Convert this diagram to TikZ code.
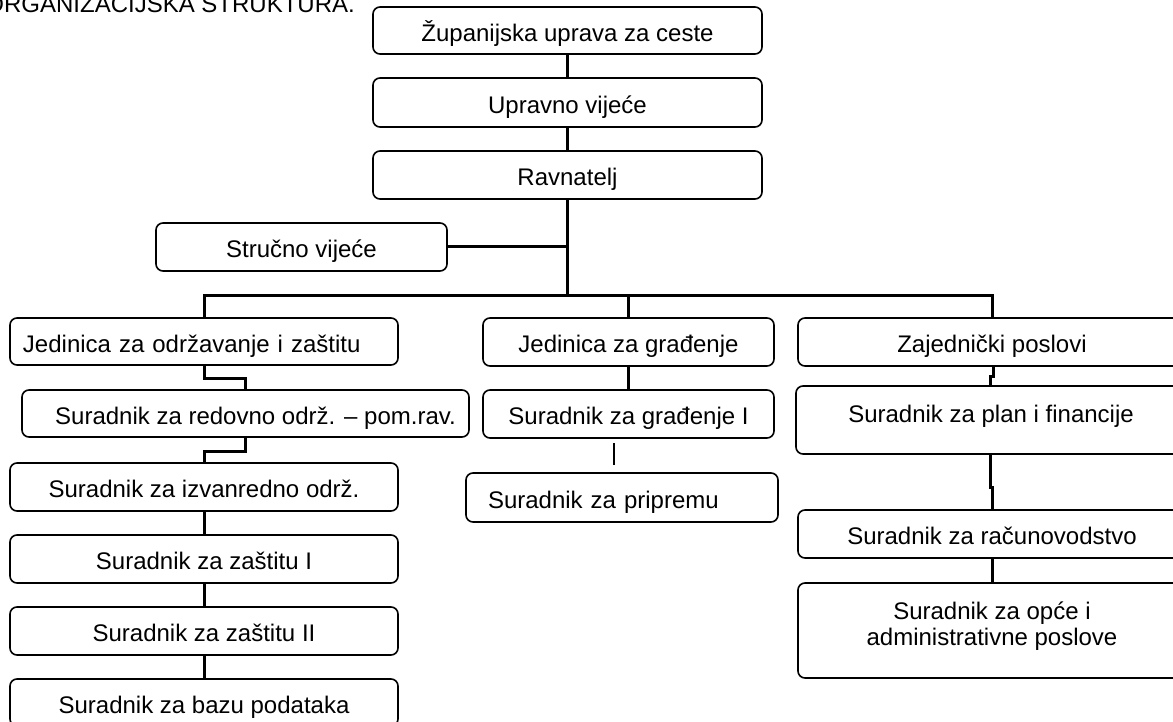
\documentclass[tikz,border=0pt]{standalone}
\usepackage{fontspec}
\setmainfont{Liberation Sans}
\usetikzlibrary{calc}
\tikzset{
  orgbox/.style={draw, line width=1.6pt, rounded corners=7pt, inner sep=0pt,
    text height=21.2pt, text depth=0pt,
    font=\fontsize{24}{25.5}\selectfont, align=center},
  trunk/.style={line width=3.8pt},
  link/.style={line width=3pt},
  thinlink/.style={line width=1.5pt},
}
\begin{document}
\begin{tikzpicture}[x=1pt,y=-1pt]
\useasboundingbox (0,0) rectangle (1173,722);
\node[anchor=base east, font=\fontsize{24}{26}\selectfont, inner sep=0pt] (title) at (355,13) {ORGANIZACIJSKA STRUKTURA.};

\node[orgbox, minimum width=389pt, minimum height=47pt] (zup) at (567.5,30.5) {Županijska uprava za ceste};
\node[orgbox, minimum width=389pt, minimum height=49pt] (upr) at (567.5,102.5) {Upravno vijeće};
\node[orgbox, minimum width=389pt, minimum height=48pt] (rav) at (567.5,175) {Ravnatelj};
\node[orgbox, minimum width=291pt, minimum height=48pt] (stru) at (301.5,247) {Stručno vijeće};

\node[orgbox, minimum width=388pt, minimum height=47pt, text width=362pt, align=left] (jod) at (204,341.5) {Jedinica za održavanje i zaštitu};
\node[orgbox, minimum width=291pt, minimum height=48pt] (jgr) at (628.5,342) {Jedinica za građenje};
\node[orgbox, minimum width=388pt, minimum height=48pt] (zaj) at (992,342) {Zajednički poslovi};

\node[orgbox, minimum width=447pt, minimum height=47pt] (red) at (245.5,413.5) {\hspace*{20pt}Suradnik za redovno održ. – pom.rav.};
\node[orgbox, minimum width=291pt, minimum height=48pt] (sgr) at (628.5,414) {Suradnik za građenje I};
\node[orgbox, minimum width=390pt, minimum height=68pt, text depth=17pt] (plan) at (991,420) {Suradnik za plan i financije};

\node[orgbox, minimum width=388pt, minimum height=48pt] (izv) at (204,487) {Suradnik za izvanredno održ.};
\node[orgbox, minimum width=312pt, minimum height=49pt, text width=268pt, align=left] (pri) at (622,497.5) {Suradnik za pripremu};
\node[orgbox, minimum width=388pt, minimum height=48pt] (rac) at (992,534) {Suradnik za računovodstvo};

\node[orgbox, minimum width=388pt, minimum height=48pt] (z1) at (204,559) {Suradnik za zaštitu I};
\node[orgbox, minimum width=388pt, minimum height=48pt] (z2) at (204,631) {Suradnik za zaštitu II};
\node[orgbox, minimum width=388pt, minimum height=95pt, text height=46pt, text depth=17pt] (opce) at (992,630.5) {Suradnik za opće i\\administrativne poslove};
\node[orgbox, minimum width=388pt, minimum height=47pt] (baza) at (204,702.5) {Suradnik za bazu podataka};

% trunk
\draw[link] (zup.south) -- (upr.north);
\draw[link] (upr.south) -- (rav.north);
\coordinate (bus) at (567.5,295);
\draw[trunk] (rav.south) -- (bus);
\draw[link] (stru.east) -- (stru.east -| rav.south);
\draw[link] (jod.north) |- (bus) -| (zaj.north);
\draw[link] (jgr.north) -- (jgr.north |- bus);

% left column
\draw[link] (jod.south) -- ++(0,13) -| (red.north);
\draw[link] (red.south) -- ++(0,14) -| (izv.north);
\draw[link] (izv.south) -- (z1.north);
\draw[link] (z1.south) -- (z2.north);
\draw[link] (z2.south) -- (baza.north);

% middle column
\draw[trunk] (jgr.south) -- (sgr.north);
\draw[thinlink] ($(sgr.south)+(-14.5,4)$) -- ($(sgr.south)+(-14.5,26)$);

% right column
\draw[link] ($(zaj.south)+(1,0)$) -- ++(0,10) -| ($(plan.north)+(-1,0)$);
\draw[link] ($(plan.south)+(-1,0)$) -- ++(0,33) -| (rac.north);
\draw[link] (rac.south) -- (opce.north);
\end{tikzpicture}
\end{document}
